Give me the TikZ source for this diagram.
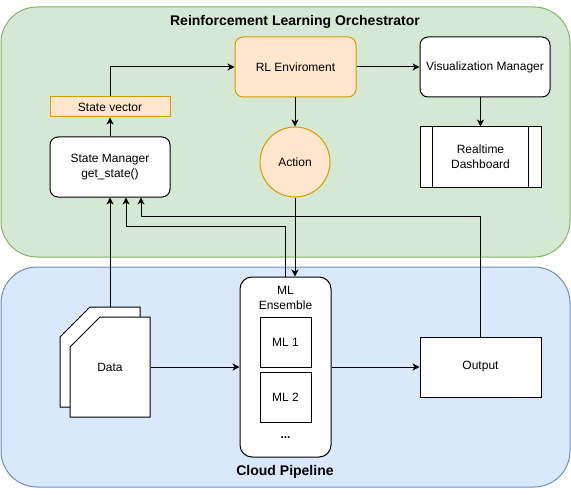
\documentclass[tikz,border=0pt]{standalone}
\usepackage{fontspec}
\setmainfont{Liberation Sans}
\usetikzlibrary{arrows.meta}

\definecolor{grfill}{HTML}{D5E8D4}
\definecolor{grline}{HTML}{82B366}
\definecolor{blfill}{HTML}{DAE8FC}
\definecolor{blline}{HTML}{6C8EBF}
\definecolor{orfill}{HTML}{FFE6CC}
\definecolor{orline}{HTML}{D79B00}

\begin{document}
\begin{tikzpicture}[x=1pt, y=-1pt, line width=1pt,
    txt/.style={font=\fontsize{12}{15}\selectfont, align=center},
    box/.style={txt, draw, fill=white, rounded corners=8pt, minimum width=120pt, minimum height=60pt},
    arr/.style={-{Stealth[length=7pt, width=7pt, inset=2pt]}}]
    \useasboundingbox (0,0) rectangle (571,495);

    % 背景の枠
    \draw[grline, fill=grfill, rounded corners=36pt] (1,7) rectangle (570,257);
    \draw[blline, fill=blfill, rounded corners=36pt] (1,267) rectangle (570,487);
    \node[font=\fontsize{14}{16}\selectfont\bfseries] (rlo) at (295,22) {Reinforcement Learning Orchestrator};
    \node[font=\fontsize{14}{16}\selectfont\bfseries] (cp) at (285,472) {Cloud Pipeline};

    \node[box, draw=orline, fill=orfill, minimum width=121pt] (rl) at (295.5,67) {RL Enviroment};
    \node[box, minimum width=130pt] (vis) at (485,67) {Visualization Manager};
    \node[box, rounded corners=0pt, minimum width=121pt] (dash) at (480.5,157) {Realtime\\Dashboard};
    \draw ([xshift=13pt]dash.north west) -- ([xshift=13pt]dash.south west);
    \draw ([xshift=-13pt]dash.north east) -- ([xshift=-13pt]dash.south east);
    \node[txt, circle, draw=orline, fill=orfill, minimum size=70pt] (act) at (295,162) {Action};
    \node[txt, draw=orline, fill=orfill, minimum width=120pt, minimum height=20pt, inner sep=0pt] (sv) at (110,107) {State vector};
    \node[box] (sm) at (110,167) {State Manager\\get\_state()};

    % データ (カード)
    \draw[fill=white] (60,337) -- (90,307) -- (140,307) -- (140,407) -- (60,407) -- cycle;
    \draw[fill=white] (70,347) -- (100,317) -- (150,317) -- (150,417) -- (70,417) -- cycle;
    \node[txt, minimum width=80pt, minimum height=100pt] (data) at (110,367) {Data};
    \coordinate (datatop) at (110,307);

    \node[box, rounded corners=12pt, minimum width=91pt, minimum height=180pt] (ens) at (285.5,367) {};
    \node[txt] (enslbl) at (285.5,298) {ML\\Ensemble};
    \node[txt, draw, fill=white, minimum width=51pt, minimum height=50pt] (ml1) at (285.5,342) {ML 1};
    \node[txt, draw, fill=white, minimum width=51pt, minimum height=50pt] (ml2) at (285.5,397) {ML 2};
    \node[txt, font=\fontsize{12}{15}\selectfont\bfseries] (dots) at (285.5,438) {...};
    \node[box, rounded corners=0pt, minimum width=121pt] (out) at (480.5,367) {Output};

    \draw[arr] (sm) -- (sv);
    \draw[arr] (sv.north) |- (rl.west);
    \draw[arr] (rl) -- (vis);
    \draw[arr] (dash.north |- vis.south) -- (dash.north);
    \draw[arr] (rl.south -| act.north) -- (act.north);
    \draw[arr] (act.south) -- (act.south |- ens.north);
    \draw[arr] (datatop) -- (datatop |- sm.south);
    \draw[arr] (data) -- (ens);
    \draw[arr] (ens) -- (out);
    \draw[arr] (ens.north) -- ++(0,-50) -| ([xshift=16pt]sm.south);
    \draw[arr] (out.north) -- ++(0,-120) -| ([xshift=31pt]sm.south);

  \end{tikzpicture}
\end{document}
